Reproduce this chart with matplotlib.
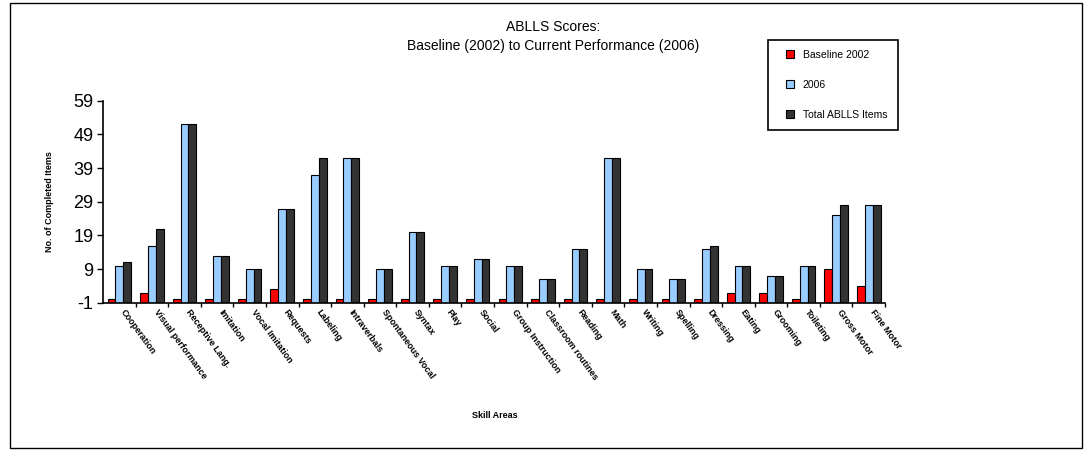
import numpy as np
import matplotlib.pyplot as plt
from matplotlib.patches import Rectangle
from matplotlib.lines import Line2D

plt.rcParams['font.family'] = ['Liberation Sans', 'DejaVu Sans']
plt.rcParams['axes.unicode_minus'] = False

# skill areas and scores
skills = ["Cooperation", "Visual performance", "Receptive Lang.", "Imitation",
          "Vocal Imitation", "Requests", "Labeling", "Intraverbals",
          "Spontaneous Vocal", "Syntax", "Play", "Social", "Group Instruction",
          "Classroom routines", "Reading", "Math", "Writing", "Spelling",
          "Dressing", "Eating", "Grooming", "Toileting", "Gross Motor", "Fine Motor"]
baseline_2002 = [0, 2, 0, 0, 0, 3, 0, 0, 0, 0, 0, 0, 0, 0, 0, 0, 0, 0, 0, 2, 2, 0, 9, 4]
score_2006 = [10, 16, 52, 13, 9, 27, 37, 42, 9, 20, 10, 12, 10, 6, 15, 42, 9, 6, 15, 10, 7, 10, 25, 28]
total_items = [11, 21, 52, 13, 9, 27, 42, 42, 9, 20, 10, 12, 10, 6, 15, 42, 9, 6, 16, 10, 7, 10, 28, 28]
yticks = [-1, 9, 19, 29, 39, 49, 59]

fig = plt.figure(figsize=(10.9, 4.5), dpi=100)
ax = fig.add_axes((0.0945, 0.327, 0.7175, 0.449))

x = np.arange(len(skills))
w = 0.24
base = -1  # horizontal axis crosses at -1, bars grow from there
series = [(baseline_2002, "#ff0000", "Baseline 2002"),
          (score_2006, "#99ccff", "2006"),
          (total_items, "#333333", "Total ABLLS Items")]
handles = []
for i, (vals, col, lab) in enumerate(series):
    vals = np.array(vals, dtype=float)
    ax.bar(x + (i - 1) * w, vals - base, w, bottom=base, color=col,
           edgecolor="black", linewidth=0.8)
    handles.append(Line2D([], [], linestyle="none", marker="s", markersize=5.5,
                          markerfacecolor=col, markeredgecolor="black",
                          markeredgewidth=0.8, label=lab))

ax.set_xlim(-0.5, len(skills) - 0.5)
ax.set_ylim(-1, 59)
ax.set_yticks(yticks)
ax.tick_params(axis="y", labelsize=13, direction="out", length=4, width=1, pad=3)
ax.set_xticks(x + 0.5)
ax.set_xticklabels([])
ax.tick_params(axis="x", direction="out", length=3, width=1)
for i, s in enumerate(skills):
    ax.text(x[i] + 0.1, -3.3, s, rotation=-54, rotation_mode="anchor",
            ha="left", va="center", fontsize=6.5, fontweight="bold")

for side in ["top", "right"]:
    ax.spines[side].set_visible(False)
ax.spines["left"].set_linewidth(1.2)
ax.spines["bottom"].set_linewidth(1.2)

ax.set_ylabel("No. of Completed Items", fontsize=6.5, fontweight="bold", labelpad=14)
fig.text(0.454, 0.07, "Skill Areas", fontsize=6.5, fontweight="bold", ha="center")
fig.text(0.507, 0.94, "ABLLS Scores:", fontsize=10, ha="center", va="center")
fig.text(0.507, 0.898, "Baseline (2002) to Current Performance (2006)", fontsize=10,
         ha="center", va="center")

leg = fig.legend(handles=handles, loc="upper left", bbox_to_anchor=(0.705, 0.912),
                 fontsize=7.5, handlelength=2.2, handletextpad=0.1,
                 labelspacing=1.9, borderpad=1.0, borderaxespad=0,
                 fancybox=False, edgecolor="black", framealpha=1)
leg.get_frame().set_linewidth(1.2)

fig.patches.append(Rectangle((0.009, 0.005), 0.984, 0.988, transform=fig.transFigure,
                             fill=False, edgecolor="black", linewidth=1))

fig.savefig("out.png", dpi=100)
